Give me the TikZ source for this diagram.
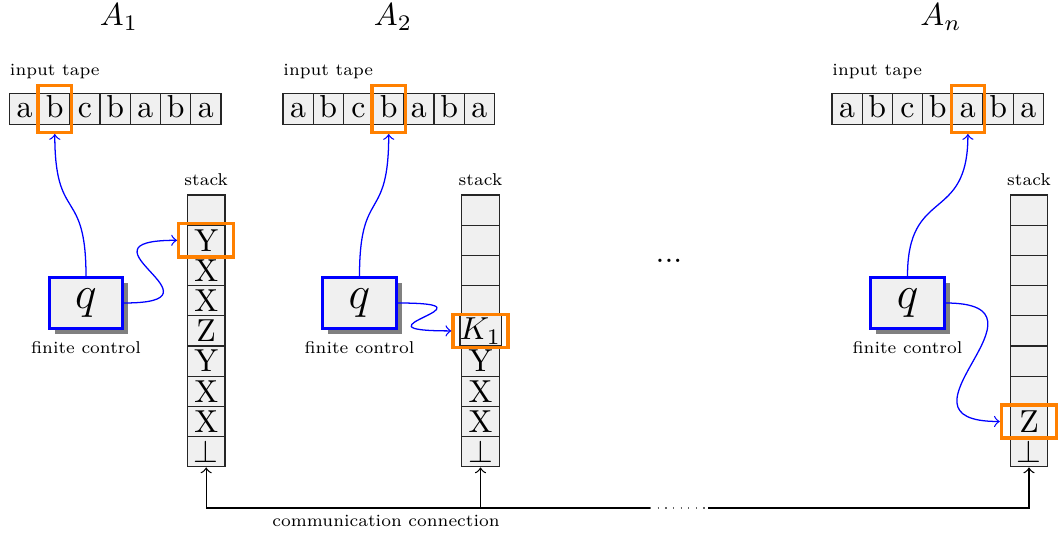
\documentclass[tikz,border=0pt]{standalone}
\usetikzlibrary{shadows}
\def\pxu{0.3145pt}
\begin{document}
\begin{tikzpicture}[x=0.3145pt,y=-0.3145pt,
  cell/.style={draw=black!85, fill=black!6, line width=0.4pt, inner sep=0pt,
    minimum width=30.2*\pxu, minimum height=30.6*\pxu, text height=1.5ex, text depth=.25ex},
  scell/.style={draw=black!85, fill=black!6, line width=0.4pt, inner sep=0pt,
    minimum width=37.7*\pxu, minimum height=30.2*\pxu},
  tapemark/.style={draw=orange, line width=1.05pt, inner sep=0pt,
    minimum width=33.3*\pxu, minimum height=46.7*\pxu},
  stackmark/.style={draw=orange, line width=1.05pt, inner sep=0pt,
    minimum width=55*\pxu, minimum height=33.3*\pxu},
  ctrl/.style={draw=blue, line width=0.8pt, fill=black!6, inner sep=0pt,
    minimum width=73.5*\pxu, minimum height=51.5*\pxu, font=\Large,
    drop shadow={shadow xshift=1.8pt, shadow yshift=-1.8pt, fill=black!50, opacity=1}},
  lbl/.style={font=\scriptsize, inner sep=0pt, scale=0.77},
  head/.style={blue, line width=0.4pt, ->},
  conn/.style={black, line width=0.4pt, ->},
]
\useasboundingbox (0,0) rectangle (1059,536);

% automaton titles
\node (A1) at (119,17) {$A_1$};
\node (A2) at (393,17) {$A_2$};
\node (An) at (941,17) {$A_n$};

% input tapes
\foreach \k/\tx in {1/9.5, 2/283, n/832} {
  \node[lbl, anchor=west] (tl-\k) at (\tx,72) {input tape};
  \foreach \c [count=\i] in {a,b,c,b,a,b,a}
    \node[cell] (t\k-\i) at ({\tx+30.2*(\i-0.5)},109) {\c};
}

% stacks
\foreach \k/\sx in {1/206.2, 2/480.5, n/1029}
  \node[lbl] (sl-\k) at (\sx,180) {stack};
\foreach \c [count=\j] in {{},Y,X,X,Z,Y,X,X,$\bot$}
  \node[scell] (s1-\j) at (206.2,{195+30.2*(\j-0.5)}) {\c};
\foreach \c [count=\j] in {{},{},{},{},$K_1$,Y,X,X,$\bot$}
  \node[scell] (s2-\j) at (480.5,{195+30.2*(\j-0.5)}) {\c};
\foreach \c [count=\j] in {{},{},{},{},{},{},{},Z,$\bot$}
  \node[scell] (sn-\j) at (1029,{195+30.2*(\j-0.5)}) {\c};

% reading heads and stack tops
\node[tapemark] (m1) at (t1-2) {};
\node[tapemark] (m2) at (t2-4) {};
\node[tapemark] (mn) at (tn-5) {};
\node[stackmark] (p1) at (s1-2) {};
\node[stackmark] (p2) at (s2-5) {};
\node[stackmark] (pn) at (sn-8) {};

% finite controls
\node[ctrl] (q1) at (86,303) {$q$};
\node[ctrl] (q2) at (359.5,303) {$q$};
\node[ctrl] (qn) at (907.5,303) {$q$};
\node[lbl] (f1) at (86,348) {finite control};
\node[lbl] (f2) at (359.5,348) {finite control};
\node[lbl] (fn) at (907.5,348) {finite control};

\node (dots) at (669,261) {...};

% head connections
\draw[head] (q1.north) .. controls +(0,-90) and +(0,90) .. (m1.south);
\draw[head] (q2.north) .. controls +(0,-90) and +(0,90) .. (m2.south);
\draw[head] (qn.north) .. controls +(0,-90) and +(0,90) .. (mn.south);
\draw[head] (q1.east) .. controls +(110,0) and +(-110,0) .. (p1.west);
\draw[head] (q2.east) .. controls +(110,0) and +(-110,0) .. (p2.west);
\draw[head] (qn.east) .. controls +(120,0) and +(-120,0) .. (pn.west);

% communication connection
\coordinate (dl) at (650,508);
\coordinate (dr) at (708,508);
\draw[conn] (dl) -| (s1-9.south);
\draw[conn] (dl) -| (s2-9.south);
\draw[conn] (dr) -| (sn-9.south);
\draw[dotted, line width=0.4pt, black!60] (dl) -- (dr);
\node[lbl] (cc) at (386,521) {communication connection};
\end{tikzpicture}
\end{document}
